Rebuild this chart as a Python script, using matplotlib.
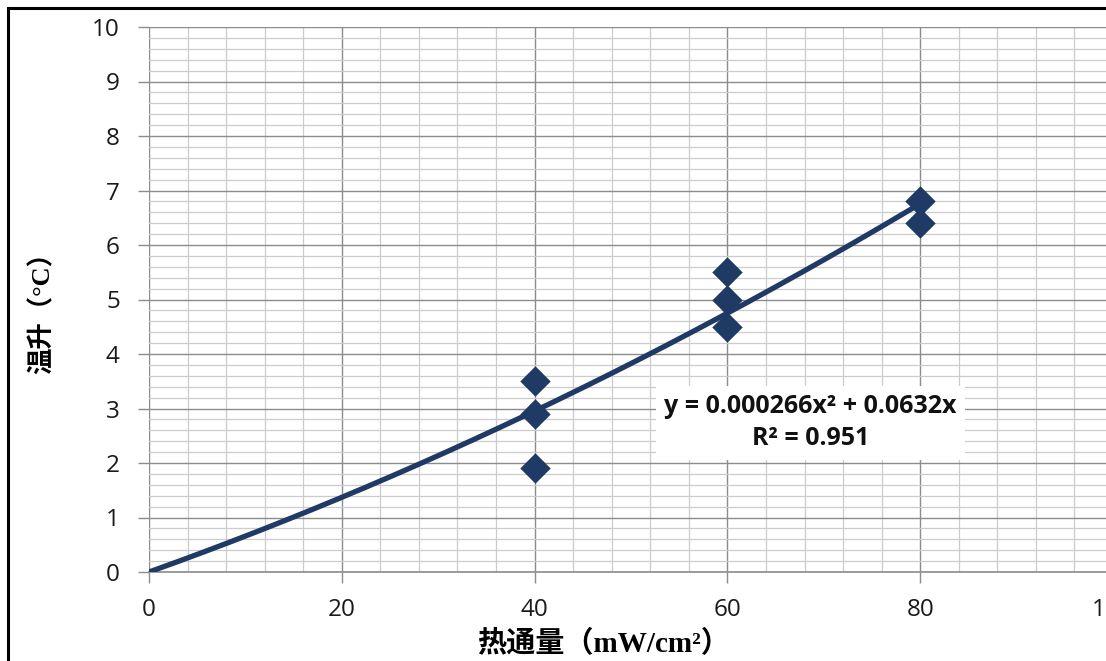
import matplotlib
matplotlib.use('Agg')
import matplotlib.pyplot as plt # plotting
import numpy as np # arrays
from matplotlib.patches import Rectangle # frame round the chart

### Measured points (heat flux vs temperature rise)
flux = [40, 40, 40, 60, 60, 60, 80, 80]
temp_rise = [3.5, 2.9, 1.9, 5.5, 5.0, 4.5, 6.8, 6.4]

### Trendline coefficients as printed on the chart
coef_a = 0.000266
coef_b = 0.0632
fit_max = 80

x_ticks = [0, 20, 40, 60, 80, 100]
y_ticks = list(range(0, 11))

navy = '#1F3A64'
label_font = ['Liberation Serif', 'Noto Sans CJK SC', 'DejaVu Sans']

fig = plt.figure(figsize=(11.06, 6.61), dpi=100)
ax = fig.add_axes([149/1106, 1 - 572/661, 964/1106, 545/661])

### Trendline y = a*x^2 + b*x
xs = np.linspace(0, fit_max, 200)
ax.plot(xs, coef_a * xs**2 + coef_b * xs, color=navy, lw=3.8, zorder=3,
        solid_capstyle='butt')
ax.scatter(flux, temp_rise, marker='D', s=240, color=navy, zorder=4, lw=0)

ax.set_xlim(0, 100)
ax.set_ylim(0, 10)
ax.set_xticks(x_ticks)
ax.set_yticks(y_ticks)
ax.set_xticks(np.arange(0, 101, 4), minor=True)
ax.set_yticks(np.arange(0, 10.01, 0.2), minor=True)
ax.grid(which='major', color='#8c8c8c', lw=1.0)
ax.grid(which='minor', color='#cccccc', lw=0.9)
ax.set_axisbelow(True)
for s in ['top', 'right', 'left']:
    ax.spines[s].set_visible(False)
ax.spines['bottom'].set_color('#8c8c8c')
ax.spines['bottom'].set_linewidth(1.2)
ax.tick_params(which='major', length=8, color='#8c8c8c', width=1.0,
               labelsize=17.5, labelcolor='#1a1a1a', pad=11)
ax.tick_params(axis='y', pad=13)
ax.tick_params(which='minor', length=0)
for lbl in ax.get_xticklabels() + ax.get_yticklabels():
    lbl.set_family('Open Sans')

### Equation box
ax.text(68.6, 2.74, 'y = 0.000266x² + 0.0632x\nR² = 0.951',
        ha='center', va='center', fontsize=18, fontweight='bold',
        family='Open Sans', linespacing=1.4, color='#111111', zorder=5,
        bbox=dict(facecolor='white', edgecolor='none', pad=6))

### Axis titles
fig.text(42/1106, 1 - 306/661, '温升（°C）', rotation=90, ha='center',
         va='center', fontsize=19, fontweight='bold', family=label_font)
fig.text(603/1106, 1 - 644/661, '热通量（mW/cm²）', ha='center', va='center',
         fontsize=21, fontweight='bold', family=label_font)

### Outer frame
fig.patches.append(Rectangle((8/1106, -0.1), 1.2, 1.1 - 8/661,
                             transform=fig.transFigure, fill=False,
                             edgecolor='black', lw=2.2))

fig.savefig('out.png', dpi=100)
